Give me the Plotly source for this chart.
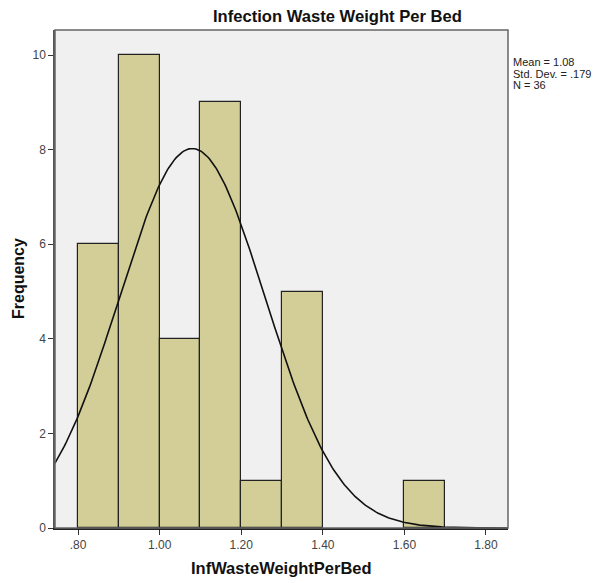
import numpy as np
import plotly.graph_objects as go

bin_starts = [0.80, 0.90, 1.00, 1.10, 1.20, 1.30, 1.60]
counts = [6, 10, 4, 9, 1, 5, 1]
bin_width = 0.1
mean, sd, n = 1.08, 0.179, 36
x_ticks = [0.8, 1.0, 1.2, 1.4, 1.6, 1.8]
x_tick_text = [".80", "1.00", "1.20", "1.40", "1.60", "1.80"]
y_ticks = [0, 2, 4, 6, 8, 10]
stats_lines = ["Mean = 1.08", "Std. Dev. = .179", "N = 36"]

centers = [s + bin_width / 2 for s in bin_starts]

xr = [0.7435, 1.854]
xc = np.linspace(xr[0], xr[1], 300)
yc = n * bin_width / (sd * np.sqrt(2 * np.pi)) * np.exp(-0.5 * ((xc - mean) / sd) ** 2)

fig = go.Figure()
fig.add_trace(go.Bar(x=centers, y=counts, width=bin_width,
                     marker=dict(color="#D3CE98", line=dict(color="#222222", width=1.2)),
                     hoverinfo="x+y"))
fig.add_trace(go.Scatter(x=xc, y=yc, mode="lines", line=dict(color="#111111", width=1.6),
                         hoverinfo="skip"))

annotations = [
    dict(text="<b>Infection Waste Weight Per Bed</b>", xref="paper", yref="paper",
         x=(337 - 55) / 453, y=1, yshift=14, showarrow=False, xanchor="center", yanchor="middle",
         font=dict(size=16.6, color="#111111")),
    dict(text="<b>InfWasteWeightPerBed</b>", xref="paper", yref="paper",
         x=0.5, y=0, yshift=-40, showarrow=False, xanchor="center", yanchor="middle",
         font=dict(size=16.5, color="#111111")),
    dict(text="<b>Frequency</b>", xref="paper", yref="paper", textangle=-90,
         x=0, xshift=-37, y=0.5, showarrow=False, xanchor="center", yanchor="middle",
         font=dict(size=16, color="#111111")),
]
for i, line in enumerate(stats_lines):
    annotations.append(dict(text=line, xref="paper", yref="paper",
                            x=1, xshift=3, y=1, yshift=-32 - 11.5 * i, showarrow=False,
                            xanchor="left", yanchor="middle", align="left",
                            font=dict(size=11, color="#222222")))

fig.update_layout(
    width=593, height=575,
    margin=dict(l=47, r=93, t=22, b=55),
    paper_bgcolor="white", plot_bgcolor="#F0F0F0",
    showlegend=False, bargap=0,
    font=dict(family="Liberation Sans, Arial, sans-serif", color="#333333", size=12),
    xaxis=dict(range=xr, tickvals=x_ticks, ticktext=x_tick_text, showgrid=False, zeroline=False,
               ticks="outside", ticklen=5, tickcolor="#333333", showline=True, linecolor="#222222",
               linewidth=2, mirror=False, tickfont=dict(size=12, color="#444444")),
    yaxis=dict(range=[0, 10.53], tickvals=y_ticks, showgrid=False, zeroline=False,
               ticks="outside", ticklen=5, tickcolor="#333333", showline=True, linecolor="#555555",
               linewidth=1.5, tickfont=dict(size=12, color="#444444")),
    shapes=[dict(type="rect", xref="paper", yref="paper", x0=0, x1=1, y0=0, y1=1,
                 line=dict(color="#666666", width=1.5), fillcolor="rgba(0,0,0,0)", layer="above")],
    annotations=annotations,
)

fig.write_html("out.html")
